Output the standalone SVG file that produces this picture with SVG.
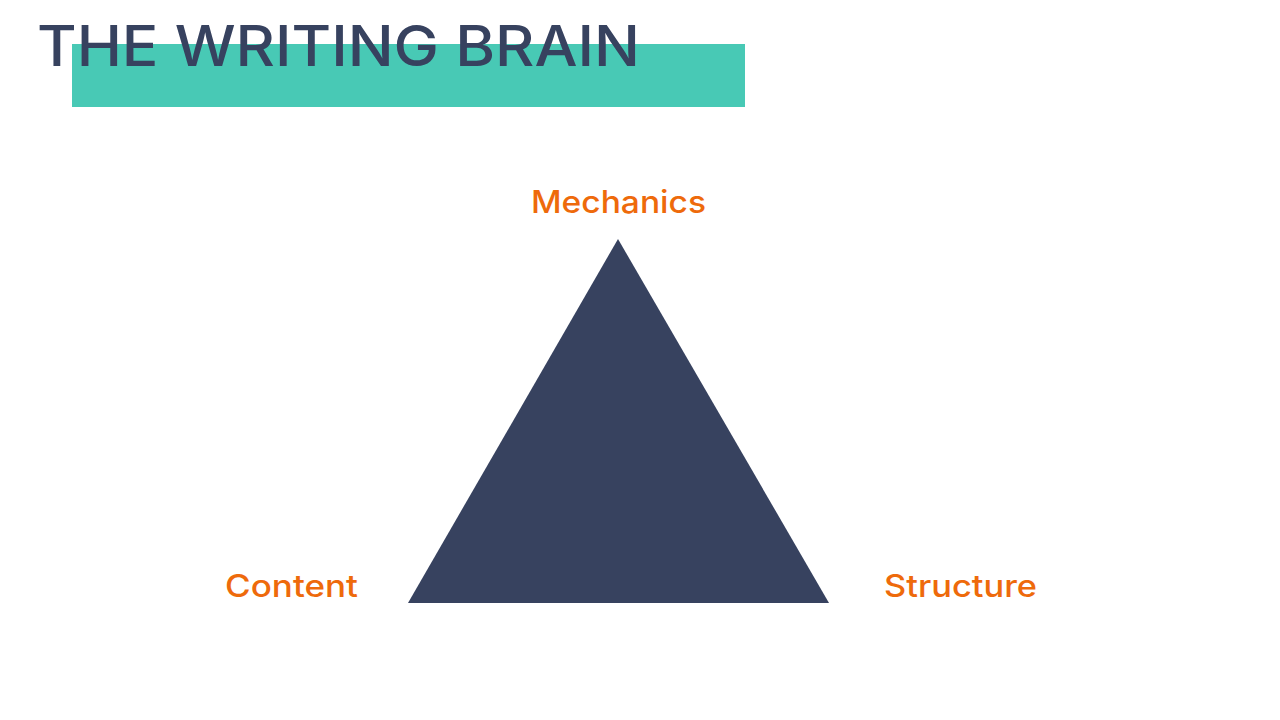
<svg xmlns="http://www.w3.org/2000/svg" width="1280" height="720" viewBox="0 0 1280 720">
<style>
.lbl{font-family:Inter,"DejaVu Sans",sans-serif;font-weight:500;font-size:31px;fill:#EE6A0B}
.title{font-family:Inter,"DejaVu Sans",sans-serif;font-weight:500;font-size:56px;fill:#37425F}
</style>
<rect width="1280" height="720" fill="#FFFFFF"/>
<g id="title">
<rect x="72" y="44" width="673" height="63" fill="#48C9B5"/>
<text class="title" x="37" y="66" textLength="603" lengthAdjust="spacingAndGlyphs">THE WRITING BRAIN</text>
</g>
<g id="triangle">
<polygon points="618,239 829,603 408,603" fill="#37425F"/>
</g>
<g id="mechanics"><text class="lbl" x="531" y="213" textLength="175" lengthAdjust="spacingAndGlyphs">Mechanics</text></g>
<g id="content"><text class="lbl" x="225" y="597" textLength="133" lengthAdjust="spacingAndGlyphs">Content</text></g>
<g id="structure"><text class="lbl" x="884" y="597" textLength="153" lengthAdjust="spacingAndGlyphs">Structure</text></g>
<g id="connectors"></g>
</svg>
